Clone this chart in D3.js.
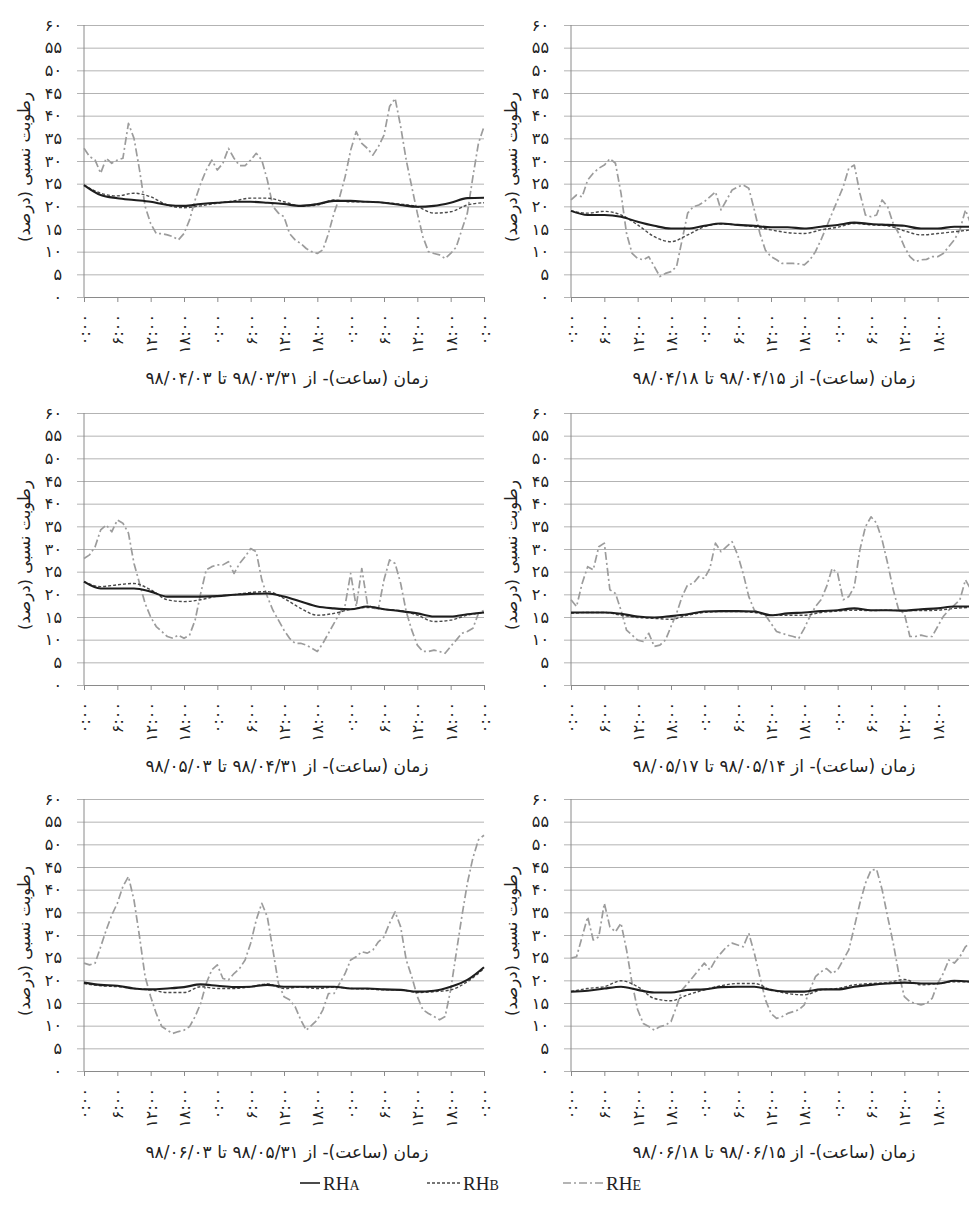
<!DOCTYPE html>
<html>
<head>
<meta charset="utf-8">
<script src="https://cdn.jsdelivr.net/npm/d3@7"></script>
<style>
    body { margin: 0; background: #fff; }
    svg { display: block; }
</style>
</head>
<body>
<div id="chart"></div>
<script>
// ---- data ----
const yTicks = [0, 5, 10, 15, 20, 25, 30, 35, 40, 45, 50, 55, 60];
const xTicks = [0, 6, 12, 18, 24, 30, 36, 42, 48, 54, 60, 66, 72];
const yTitle = "رطوبت نسبی (درصد)";

const titles = [
    "زمان (ساعت)- از ۹۸/۰۳/۳۱ تا ۹۸/۰۴/۰۳",
    "زمان (ساعت)- از ۹۸/۰۴/۱۵ تا ۹۸/۰۴/۱۸",
    "زمان (ساعت)- از ۹۸/۰۴/۳۱ تا ۹۸/۰۵/۰۳",
    "زمان (ساعت)- از ۹۸/۰۵/۱۴ تا ۹۸/۰۵/۱۷",
    "زمان (ساعت)- از ۹۸/۰۵/۳۱ تا ۹۸/۰۶/۰۳",
    "زمان (ساعت)- از ۹۸/۰۶/۱۵ تا ۹۸/۰۶/۱۸"
];

// RHE: hourly values, 0..72 h
const rheP1 = [32.8,31,30.2,27.3,30.6,29.5,30.2,30.6,38.3,35,28,20,16.2,14,14,13.7,13.3,12.6,14,17,21.4,25,28,30.2,28,29.5,32.8,30.6,29,29,30.2,31.7,30.2,25.8,20,18.5,17.7,14,12.6,11.8,10.7,10,9.6,10.4,14,18.5,22,26.5,32.4,36.5,33.9,32.8,31.3,33.2,35.7,42,43.8,37.6,30.2,24.3,18.5,13.3,10,9.6,9.3,8.5,9.6,11,14.8,18.5,26.5,33.9,37.6];
const rheP2 = [21.4,22.5,22.1,25.8,27.3,28.4,29.1,30.5,29.5,22.9,14,9.6,8.5,8.2,8.9,6.7,4.5,5.2,5.6,6.7,12.6,18.5,19.9,20.3,21,22.1,23.2,19.2,21.4,23.6,24.3,24.7,24,19.2,14,10.3,8.9,8.2,7.4,7.4,7.4,7.3,7.1,8.2,10,12.6,15.5,18.5,21.4,24.3,28.4,29.1,22.9,18.1,17.7,18.1,21.4,19.9,16.2,14,11.1,8.9,7.8,8.2,8.3,8.9,8.9,9.6,11.1,12.6,14.8,19.2,16];
const rheP3 = [27.9,28.7,30.5,34.2,35.3,33.8,36.4,35.7,33.5,26.8,22.4,18,15,12.9,11.8,10.7,10.3,11,10.3,11,14.3,20.2,25.4,26.1,26.5,26.5,27.2,24.6,26.8,28.3,30.1,29.4,23.2,19.5,16.5,14.3,12.1,10.3,9.2,9.2,8.8,8.1,7.4,9.2,11.4,13.6,15.8,17.6,24.6,17.3,25.7,18,16.9,16.9,23.2,27.6,26.8,22.4,16.2,12.1,8.8,7.4,7.4,7.7,7.4,7,8.5,9.9,11.4,11.8,12.5,15.8,16.5];
const rheP4 = [18.8,17.3,22.4,26.1,25.4,30.5,31.3,21,20.2,16.5,12.1,11,9.9,9.6,11.4,8.5,8.8,9.9,12.9,15.8,19.5,22.1,22.4,23.9,23.5,25.7,31.3,29.4,30.5,31.6,28.7,24.6,19.5,16.5,15.8,15.4,13.6,11.8,11.4,11,10.7,10.3,12.5,15.1,17.3,18.8,21.7,25.7,24.6,18.8,19.5,21.7,29.8,34.9,37.1,35.7,32,26.8,21,16.5,15.8,10.7,10.7,11,10.7,10.7,12.9,15.1,16.5,17.6,18.8,23.2,21];
const rheP5 = [23.8,23.4,23.8,27.4,31.1,34.4,37,40.7,42.9,37.7,29.6,20.8,16.4,12.7,9.8,9,8.3,8.7,9,9.8,12,14.9,19.3,22.3,23.4,20.4,20.1,21.5,22.6,24.5,28.2,33.3,37,34,26.7,19.3,16.4,15.7,14.2,11.3,9,10.1,11.3,13.5,17.1,17.1,19.3,21.5,24.5,25.2,26.3,26,26.7,28.5,29.6,32.6,35.1,31.8,24.5,20.8,16.4,13.5,12.7,12,11.3,12,17.9,26,34,41.4,47,51,52];
const rheP6 = [24.9,25.2,29.6,34,28.9,29.6,37,31.8,30.7,32.6,26.7,19.3,13.5,10.5,9.8,9,9.8,10.1,10.9,14.2,17.9,19.3,20.8,22.3,23.8,22.3,24.5,26,27.4,28.2,27.8,27.4,30.4,26,20.8,15.7,12.7,11.6,12,12.7,13.1,13.5,14.6,17.9,20.8,21.9,22.6,21.5,22.3,24.5,26.7,31.8,37,41.4,44.3,44.5,40,34,28.2,21.5,16.4,15.3,14.9,14.6,14.9,16,19.3,21.5,24.5,23.8,25.2,27.4,28.5];

// RHA / RHB: every 3 h, 0..72 h
const rhaP1 = [24.7,22.5,21.8,21.4,21,20.3,20.1,20.5,20.8,21,21,20.8,20.5,20.1,20.5,21.2,21.2,21,20.8,20.3,19.9,20.1,20.8,21.8,21.9];
const rhbP1 = [24.7,22.9,22.3,22.9,22.1,20.3,19.7,20.1,20.7,21.2,21.8,21.8,21,20.1,20.3,21.4,21,21,20.8,20.5,19.9,18.5,18.8,20.3,20.8];
const rhaP2 = [19,18.1,18.1,17.7,16.6,15.7,15.1,15.1,15.7,16.2,15.9,15.7,15.4,15.4,15.1,15.5,15.9,16.4,16.1,15.9,15.7,15.1,15.1,15.5,15.5];
const rhbP2 = [19,18.5,18.9,18.1,15.9,13.3,12.2,13.7,15.5,16.1,15.9,15.5,14.8,14.2,14,14.8,15.4,16.2,15.9,15.7,14.6,13.7,14,14.4,14.8];
const rhaP3 = [22.8,21.3,21.3,21.3,20.6,19.5,19.5,19.5,19.6,19.9,20.1,20.2,19.5,18.4,17.3,16.9,16.7,17.3,16.7,16.3,15.8,15.1,15.1,15.6,16];
const rhbP3 = [22.8,21.7,22.1,22.4,21,18.8,18.4,18.8,19.6,19.9,20.4,20.6,19.1,16.9,15.4,15.8,16.7,17.1,16.7,16.4,15.4,14,14.3,15.4,16];
const rhaP4 = [16,16,16,15.7,15.1,14.9,15.2,15.6,16.2,16.3,16.3,16.2,15.4,15.8,16,16.3,16.5,16.9,16.5,16.5,16.4,16.7,16.9,17.3,17.3];
const rhbP4 = [15.8,16,16,15.4,14.9,14.7,14.5,15.4,16,16.2,16.2,16,15.4,15.4,15.4,16,16.3,16.5,16.4,16.5,16.4,16.4,16.5,16.9,17.1];
const rhaP5 = [19.5,19,18.8,18.2,18,18.2,18.5,19.1,18.8,18.5,18.6,19,18.6,18.6,18.6,18.6,18.2,18.2,18,17.9,17.5,17.7,18.6,20.1,22.9];
const rhbP5 = [19.3,18.8,18.6,18.2,17.9,17.3,17.3,18.6,18.2,18.2,18.6,19.2,18.2,18.5,18.2,18.5,18.2,18.1,17.9,17.9,17.3,17.5,17.9,19.7,22.6];
const rhaP6 = [17.5,17.7,18.2,18.6,17.9,17.3,17.3,17.9,18,18.5,18.6,18.6,17.9,17.5,17.5,18,18,18.6,19,19.3,19.5,19.3,19.3,19.9,19.7];
const rhbP6 = [17.5,18.2,18.6,19.9,18.6,16,15.5,16.8,17.9,18.8,19.3,19.3,17.9,17.1,16.8,17.9,18.2,19,19.3,19.5,20.2,19,19.3,19.7,19.7];

const legendLabels = [["RH", "A"], ["RH", "B"], ["RH", "E"]];

// panels in reading order (row by row, left then right)
const panels = [
    {title: titles[0], rha: rhaP1, rhb: rhbP1, rhe: rheP1},
    {title: titles[1], rha: rhaP2, rhb: rhbP2, rhe: rheP2},
    {title: titles[2], rha: rhaP3, rhb: rhbP3, rhe: rheP3},
    {title: titles[3], rha: rhaP4, rhb: rhbP4, rhe: rheP4},
    {title: titles[4], rha: rhaP5, rhb: rhbP5, rhe: rheP5},
    {title: titles[5], rha: rhaP6, rhb: rhbP6, rhe: rheP6}
];

const faDigits = "۰۱۲۳۴۵۶۷۸۹";
const fa = s => String(s).replace(/\d/g, d => faDigits[d]);
const faFont = "'DejaVu Sans', sans-serif";

// line styles
const styles = {
    rha: {stroke: "#1e1e1e", width: 2.1, dash: null},
    rhb: {stroke: "#4a4a4a", width: 1.4, dash: "3,2"},
    rhe: {stroke: "#9c9c9c", width: 1.7, dash: "8,3,2,3"}
};

class HumidityPanel {
    constructor(_svg, _left, _top, _panel, _clipRight) {
        this.svg = _svg;
        this.left = _left;
        this.top = _top;
        this.panel = _panel;
        this.clipRight = _clipRight; // right column runs off the page edge

        this.initVis();
    }

    initVis() {
        let vis = this;

        vis.width = 400;
        vis.height = 272;

        vis.g = vis.svg.append("g")
            .attr("transform", "translate(" + vis.left + "," + vis.top + ")");

        vis.x = d3.scaleLinear().domain([0, 72]).range([0, vis.width]);
        vis.y = d3.scaleLinear().domain([0, 60]).range([vis.height, 0]);

        // gridlines + y labels (group shifted left so gridlines poke out past the axis)
        vis.yAxisG = vis.g.append("g")
            .attr("transform", "translate(-7,0)")
            .call(d3.axisLeft(vis.y)
                .tickValues(yTicks)
                .tickSize(-(vis.width + 7))
                .tickPadding(15)
                .tickFormat(d => fa(d)));
        vis.yAxisG.select(".domain").remove();
        vis.yAxisG.selectAll(".tick line").attr("stroke", "#b3b3b3").attr("stroke-width", 1);
        vis.yAxisG.selectAll(".tick text")
            .attr("fill", "#222")
            .style("font-family", faFont)
            .style("font-size", "16px");

        // vertical axis line
        vis.g.append("line")
            .attr("x1", 0).attr("x2", 0)
            .attr("y1", 0).attr("y2", vis.height)
            .attr("stroke", "#8a8a8a");

        // x axis with rotated time labels
        vis.xAxisG = vis.g.append("g")
            .attr("transform", "translate(0," + vis.height + ")")
            .call(d3.axisBottom(vis.x)
                .tickValues(xTicks)
                .tickSizeInner(5)
                .tickSizeOuter(0)
                .tickFormat(d => (vis.clipRight && d === 72) ? "" : fa(d % 24) + ":" + fa("00")));
        vis.xAxisG.select(".domain").attr("stroke", "#8a8a8a");
        vis.xAxisG.selectAll(".tick line").attr("stroke", "#8a8a8a");
        vis.xAxisG.selectAll(".tick text")
            .attr("fill", "#222")
            .style("font-family", faFont)
            .style("font-size", "16px")
            .attr("text-anchor", "end")
            .attr("dy", "0.35em")
            .attr("transform", "translate(0,17) rotate(-90)")
            .attr("x", 0)
            .attr("y", 0);

        // y title
        vis.g.append("text")
            .attr("transform", "translate(-60," + (vis.height / 2 + 6) + ") rotate(-90)")
            .attr("text-anchor", "middle")
            .attr("dy", "0.35em")
            .attr("direction", "rtl")
            .attr("fill", "#222")
            .style("font-family", faFont)
            .style("font-size", "16.5px")
            .text(yTitle);

        // panel title under the axis
        vis.g.append("text")
            .attr("x", vis.width / 2 + 3)
            .attr("y", vis.height + 87)
            .attr("text-anchor", "middle")
            .attr("direction", "rtl")
            .attr("fill", "#222")
            .style("font-family", faFont)
            .style("font-size", "17px")
            .text(vis.panel.title);

        vis.updateVis();
    }

    updateVis() {
        let vis = this;

        // draw order: RHE underneath, then RHB, then RHA on top
        ["rhe", "rhb", "rha"].forEach(function(key) {
            let values = vis.panel[key];
            let step = 72 / (values.length - 1);
            let st = styles[key];

            let line = d3.line()
                .x((d, i) => vis.x(i * step))
                .y(d => vis.y(d))
                .curve(key === "rhe" ? d3.curveLinear : d3.curveMonotoneX);

            vis.g.append("path")
                .datum(values)
                .attr("d", line)
                .attr("fill", "none")
                .attr("stroke", st.stroke)
                .attr("stroke-width", st.width)
                .attr("stroke-dasharray", st.dash)
                .attr("stroke-linejoin", "round");
        });
    }
}

const svg = d3.select("#chart").append("svg")
    .attr("width", 969)
    .attr("height", 1206);

svg.append("rect").attr("width", 969).attr("height", 1206).attr("fill", "#fff");

const colLeft = [84, 571];
const rowTop = [25, 413, 799];

panels.forEach(function(p, i) {
    new HumidityPanel(svg, colLeft[i % 2], rowTop[Math.floor(i / 2)], p, i % 2 === 1);
});

// legend
const legendX = [300, 427, 563];
const legendLen = [20, 33, 40];
const legendKeys = ["rha", "rhb", "rhe"];
const legend = svg.append("g").attr("transform", "translate(0,1183)");

legendKeys.forEach(function(key, i) {
    let st = styles[key];
    legend.append("line")
        .attr("x1", legendX[i]).attr("x2", legendX[i] + legendLen[i])
        .attr("y1", 0).attr("y2", 0)
        .attr("stroke", st.stroke)
        .attr("stroke-width", key === "rha" ? 1.6 : 1.3)
        .attr("stroke-dasharray", st.dash);

    let t = legend.append("text")
        .attr("x", legendX[i] + legendLen[i] + 3)
        .attr("y", 7)
        .attr("fill", "#222")
        .style("font-family", "'Liberation Serif', serif")
        .style("font-size", "19px");
    t.append("tspan").text(legendLabels[i][0]);
    t.append("tspan").style("font-size", "14px").text(legendLabels[i][1]);
});
</script>
</body>
</html>
